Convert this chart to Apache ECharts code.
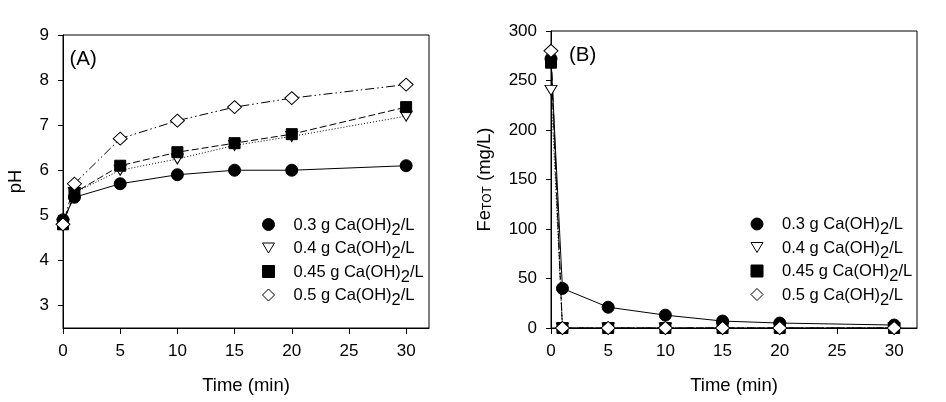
<!DOCTYPE html>
<html><head><meta charset="utf-8">
<script src="https://cdn.jsdelivr.net/npm/echarts@6/dist/echarts.min.js"></script>
<style>html,body{margin:0;padding:0;background:#fff}#c{width:946px;height:402px}</style>
</head><body><div id="c"></div>
<script>
// ---- data ----
const times = [0, 1, 5, 10, 15, 20, 30];
const doseNames = ['0.3 g Ca(OH)2/L', '0.4 g Ca(OH)2/L', '0.45 g Ca(OH)2/L', '0.5 g Ca(OH)2/L'];
const ph03 = [4.9, 5.4, 5.7, 5.9, 6.0, 6.0, 6.1];
const ph04 = [4.8, 5.5, 6.0, 6.25, 6.55, 6.75, 7.2];
const ph045 = [4.8, 5.5, 6.1, 6.4, 6.6, 6.8, 7.4];
const ph05 = [4.8, 5.7, 6.7, 7.1, 7.4, 7.6, 7.9];
const fe03 = [272, 40, 21, 13, 7, 5, 3];
const fe04 = [240, 0, 0, 0, 0, 0, 0];
const fe045 = [268, 0, 0, 0, 0, 0, 0];
const fe05 = [280, 0, 0, 0, 0, 0, 0];
const timeTicks = [0, 5, 10, 15, 20, 25, 30];
const phTicks = [3, 4, 5, 6, 7, 8, 9];
const feTicks = [0, 50, 100, 150, 200, 250, 300];

// ---- styles ----
const FONT = 'Liberation Sans, Arial, sans-serif';
const styles = [
  {symbol: 'circle', size: 12, rotate: 0, fill: '#000', line: 'solid', icon: 'circle'},
  {symbol: 'triangle', size: [12, 10], rotate: 180, fill: '#fff', line: [1, 2], icon: 'path://M0,0L12,0L6,10Z'},
  {symbol: 'rect', size: 11, rotate: 0, fill: '#000', line: [7, 3], icon: 'rect'},
  {symbol: 'diamond', size: [14, 13], rotate: 0, fill: '#fff', line: [9, 3, 1.5, 3, 1.5, 3], icon: 'diamond'}
];
const phSets = [ph03, ph04, ph045, ph05];
const feSets = [fe03, fe04, fe045, fe05];

function pairs(vals) { return times.map((t, i) => [t, vals[i]]); }

function makeSeries(idx, vals, axisIdx) {
  const s = styles[idx];
  return {
    name: doseNames[idx], type: 'line', xAxisIndex: axisIdx, yAxisIndex: axisIdx,
    data: pairs(vals), symbol: s.symbol, symbolSize: s.size, symbolRotate: s.rotate,
    clip: false, silent: true,
    lineStyle: {color: '#000', width: 1, type: s.line},
    itemStyle: {color: s.fill, borderColor: '#000', borderWidth: 1}
  };
}

const LF = 16.5;
function legendFmt(name) {
  const i = name.indexOf('Ca(OH)2');
  return '{p|' + name.slice(0, i + 6) + '}{s|2}{a|' + name.slice(i + 7) + '}';
}
function makeLegend(left, top) {
  return {
    orient: 'vertical', left: left, top: top, padding: 0,
    itemWidth: 12, itemHeight: 12, itemGap: 1.5, selectedMode: false,
    data: doseNames.map((n, i) => ({
      name: n, icon: styles[i].icon,
      itemStyle: {color: styles[i].fill, borderColor: '#000', borderWidth: 1}
    })),
    formatter: legendFmt,
    textStyle: {
      fontFamily: FONT, fontSize: LF, color: '#000',
      rich: {
        p: {fontFamily: FONT, fontSize: LF, color: '#000', lineHeight: 16, verticalAlign: 'top', padding: [0, 0, 0, 14]},
        s: {fontFamily: FONT, fontSize: LF, color: '#000', lineHeight: 16, verticalAlign: 'top', padding: [5, 0, 0, 0]},
        a: {fontFamily: FONT, fontSize: LF, color: '#000', lineHeight: 16, verticalAlign: 'top'}
      }
    }
  };
}

const axisLine = {show: true, lineStyle: {color: '#000', width: 1}};
const labelStyle = {fontFamily: FONT, fontSize: 17, color: '#000'};

function makeX(grid) {
  return {
    type: 'value', gridIndex: grid, min: 0, max: 32,
    axisLine: axisLine,
    axisTick: {show: true, length: 6, customValues: timeTicks, lineStyle: {color: '#000'}},
    axisLabel: Object.assign({customValues: timeTicks, margin: 15}, labelStyle),
    splitLine: {show: false},
    name: 'Time (min)', nameLocation: 'middle', nameGap: 48,
    nameTextStyle: {fontFamily: FONT, fontSize: 18.5, color: '#000'}
  };
}

const option = {
  animation: false,
  backgroundColor: '#fff',
  title: [
    {text: '(A)', left: 69.5, top: 48.5, padding: 0, textStyle: {fontFamily: FONT, fontSize: 20.5, fontWeight: 'normal', color: '#000'}},
    {text: '(B)', left: 569, top: 44.5, padding: 0, textStyle: {fontFamily: FONT, fontSize: 20.5, fontWeight: 'normal', color: '#000'}}
  ],
  grid: [
    {left: 63, top: 35, width: 366, height: 293, show: true, borderColor: '#000', borderWidth: 1, backgroundColor: 'transparent'},
    {left: 551, top: 31, width: 366, height: 297, show: true, borderColor: '#000', borderWidth: 1, backgroundColor: 'transparent'}
  ],
  legend: [makeLegend(262, 216.5), makeLegend(750.5, 216)],
  xAxis: [makeX(0), makeX(1)],
  yAxis: [
    {
      type: 'value', gridIndex: 0, min: 2.5, max: 9,
      axisLine: axisLine,
      axisTick: {show: true, length: 5, customValues: phTicks, lineStyle: {color: '#000'}},
      axisLabel: Object.assign({customValues: phTicks, margin: 14}, labelStyle),
      splitLine: {show: false},
      name: 'pH', nameLocation: 'middle', nameRotate: 90, nameGap: 38,
      nameTextStyle: {fontFamily: FONT, fontSize: 18.5, color: '#000'}
    },
    {
      type: 'value', gridIndex: 1, min: 0, max: 300, interval: 50,
      axisLine: axisLine,
      axisTick: {show: true, length: 5, customValues: feTicks, lineStyle: {color: '#000'}},
      axisLabel: Object.assign({customValues: feTicks, margin: 14}, labelStyle),
      splitLine: {show: false},
      name: '{m|Fe}{t|TOT}{m| (mg/L)}', nameLocation: 'middle', nameRotate: 90, nameGap: 57,
      nameTextStyle: {
        fontFamily: FONT, fontSize: 18.5, color: '#000',
        rich: {
          m: {fontFamily: FONT, fontSize: 18.5, color: '#000', lineHeight: 18, verticalAlign: 'bottom'},
          t: {fontFamily: FONT, fontSize: 12, color: '#000', lineHeight: 12, verticalAlign: 'bottom', padding: [2, 0, 0, 0]}
        }
      }
    }
  ],
  series: [
    ...phSets.map((v, i) => makeSeries(i, v, 0)),
    ...feSets.map((v, i) => makeSeries(i, v, 1))
  ]
};

echarts.init(document.getElementById('c'), null, {renderer: 'canvas'}).setOption(option);
</script>
</body></html>
